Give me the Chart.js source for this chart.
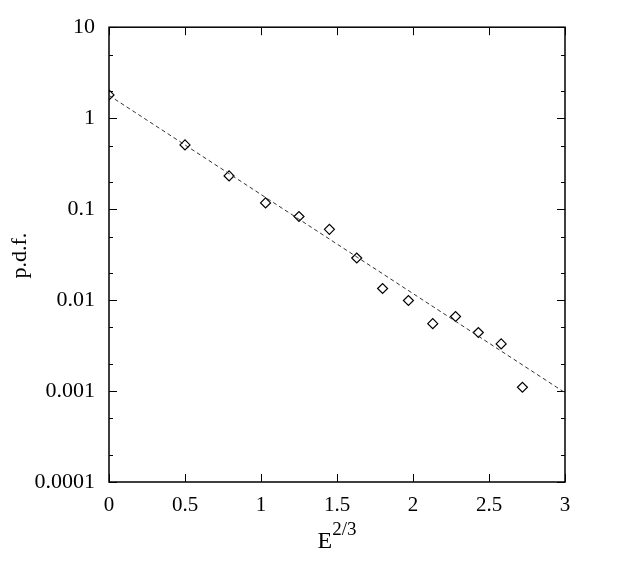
<!DOCTYPE html>
<html>
<head>
<meta charset="utf-8">
<script src="https://cdn.jsdelivr.net/npm/chart.js@4"></script>
<style>
  html, body { margin: 0; padding: 0; background: #fff; }
</style>
</head>
<body>
<canvas id="chart" width="623" height="561"></canvas>
<script>
// =============================
// DATOS
// =============================
const energy = [0, 0.50, 0.79, 1.03, 1.25, 1.45, 1.63, 1.80, 1.97, 2.13, 2.28, 2.43, 2.58, 2.72];
const pdf = [1.80, 0.508, 0.232, 0.117, 0.083, 0.060, 0.029, 0.0134, 0.0099, 0.0055, 0.0066, 0.0044, 0.0033, 0.0011];

// recta de ajuste (extremos)
const fitX = [0, 3];
const fitY = [1.78, 0.00096];

const xTicks = [0, 0.5, 1, 1.5, 2, 2.5, 3];
const yTicks = [0.0001, 0.001, 0.01, 0.1, 1, 10];
const yLabels = ["0.0001", "0.001", "0.01", "0.1", "1", "10"];

const serif = "'Liberation Serif', 'DejaVu Serif', serif";

// =============================
// MARCO, TICKS HACIA DENTRO Y TÍTULOS
// =============================
const framePlugin = {
  id: "frame",
  beforeDatasetsDraw(chart) {
    const { ctx, chartArea: a, scales } = chart;
    const xs = scales.x, ys = scales.y;
    ctx.save();
    ctx.strokeStyle = "#000";
    ctx.lineWidth = 1.5;
    ctx.strokeRect(a.left, a.top, a.right - a.left, a.bottom - a.top);

    ctx.lineWidth = 1;
    ctx.beginPath();
    // ticks eje x (abajo y arriba)
    xTicks.forEach((v) => {
      const px = Math.round(xs.getPixelForValue(v)) + 0.5;
      ctx.moveTo(px, a.bottom); ctx.lineTo(px, a.bottom - 8);
      ctx.moveTo(px, a.top); ctx.lineTo(px, a.top + 8);
    });
    // ticks eje y: mayores en cada década, menores en 2 y 5
    yTicks.forEach((v, i) => {
      const py = Math.round(ys.getPixelForValue(v)) + 0.5;
      ctx.moveTo(a.left, py); ctx.lineTo(a.left + 8, py);
      ctx.moveTo(a.right, py); ctx.lineTo(a.right - 8, py);
      if (i < yTicks.length - 1) {
        [2, 5].forEach((m) => {
          const pm = Math.round(ys.getPixelForValue(v * m)) + 0.5;
          ctx.moveTo(a.left, pm); ctx.lineTo(a.left + 4, pm);
          ctx.moveTo(a.right, pm); ctx.lineTo(a.right - 4, pm);
        });
      }
    });
    ctx.stroke();
    ctx.restore();
  },
  afterDraw(chart) {
    const { ctx, chartArea: a } = chart;
    ctx.save();
    ctx.fillStyle = "#000";
    ctx.textBaseline = "alphabetic";

    // título eje x: E^{2/3}
    const cx = (a.left + a.right) / 2;
    ctx.font = "24px " + serif;
    const wE = ctx.measureText("E").width;
    ctx.font = "19px " + serif;
    const wS = ctx.measureText("2/3").width;
    const x0 = cx - (wE + wS) / 2;
    ctx.font = "24px " + serif;
    ctx.textAlign = "left";
    ctx.fillText("E", x0, 548);
    ctx.font = "19px " + serif;
    ctx.fillText("2/3", x0 + wE, 535);

    // título eje y
    ctx.translate(26, (a.top + a.bottom) / 2 + 1);
    ctx.rotate(-Math.PI / 2);
    ctx.textAlign = "center";
    ctx.font = "22px " + serif;
    ctx.fillText("p.d.f.", 0, 0);
    ctx.restore();
  },
};

// =============================
// GRÁFICO
// =============================
new Chart(document.getElementById("chart"), {
  type: "scatter",
  data: {
    datasets: [
      {
        label: "fit",
        data: fitX.map((x, i) => ({ x: x, y: fitY[i] })),
        showLine: true,
        borderColor: "#333",
        borderWidth: 1,
        borderDash: [4, 3],
        pointRadius: 0,
        fill: false,
      },
      {
        label: "p.d.f.",
        data: energy.map((x, i) => ({ x: x, y: pdf[i] })),
        pointStyle: "rectRot",
        pointRadius: 5,
        borderColor: "#000",
        borderWidth: 1.2,
        backgroundColor: "rgba(0,0,0,0)",
      },
    ],
  },
  options: {
    responsive: false,
    animation: false,
    layout: { padding: { left: 0, top: 26, right: 58, bottom: 0 } },
    plugins: { legend: { display: false }, tooltip: { enabled: false } },
    scales: {
      x: {
        type: "linear",
        min: 0,
        max: 3,
        afterBuildTicks: (s) => { s.ticks = xTicks.map((v) => ({ value: v })); },
        afterFit: (s) => { s.height = 79; },
        grid: { display: false, drawTicks: false },
        border: { display: false },
        ticks: {
          color: "#000",
          font: { family: serif, size: 21 },
          padding: 11,
          maxRotation: 0,
          autoSkip: false,
          callback: (v) => String(v),
        },
      },
      y: {
        type: "logarithmic",
        min: 0.0001,
        max: 10,
        afterBuildTicks: (s) => { s.ticks = yTicks.map((v) => ({ value: v })); },
        afterFit: (s) => { s.width = 109; },
        grid: { display: false, drawTicks: false },
        border: { display: false },
        ticks: {
          color: "#000",
          font: { family: serif, size: 22 },
          padding: 14,
          autoSkip: false,
          callback: (v) => yLabels[yTicks.indexOf(v)] ?? "",
        },
      },
    },
  },
  plugins: [framePlugin],
});
</script>
</body>
</html>
